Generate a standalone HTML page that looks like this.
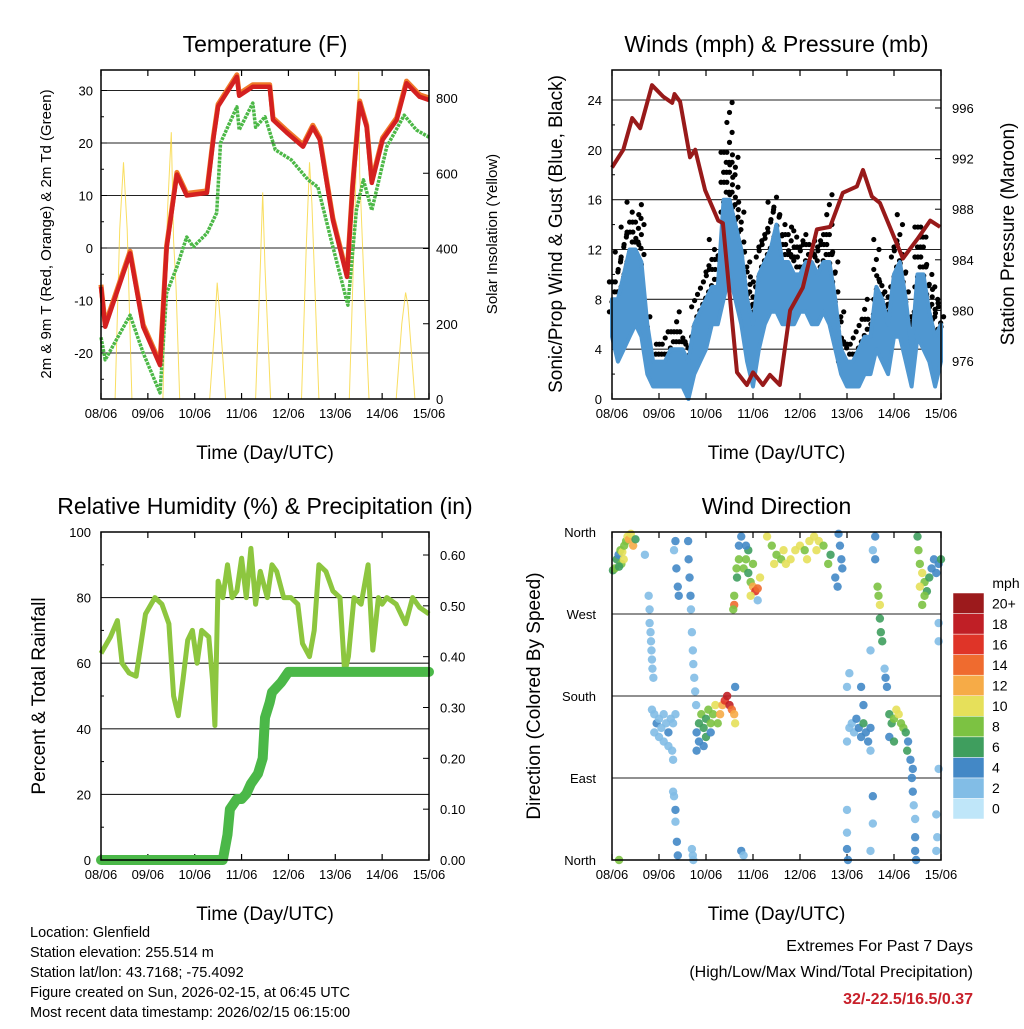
<!DOCTYPE html>
<html><head><meta charset="utf-8"><style>
body{margin:0;background:#fff}
svg text{font-family:"Liberation Sans",sans-serif;fill:#000}
</style></head><body>
<svg id="s" width="1024" height="1024" viewBox="0 0 1024 1024" xmlns="http://www.w3.org/2000/svg"></svg>
<script>
// ---------- DATA ----------
const dayLabels=["08/06","09/06","10/06","11/06","12/06","13/06","14/06","15/06"];
// Temperature (F)
const tT=[0,0.09,0.62,0.9,1.26,1.4,1.62,1.83,2.26,2.4,2.5,2.9,2.95,3.24,3.6,3.67,3.96,4.31,4.52,4.67,4.95,5.25,5.37,5.52,5.67,5.78,6.01,6.31,6.52,6.8,7];
const tempRed=[-7.4,-15,-1,-15,-22.3,0,14,10,10.5,21,27,32.6,29,30.7,30.7,24.4,22,19.3,23,20.6,5.3,-5.5,11.6,27.6,23,12.4,20.6,24.4,31.4,28.8,28.2];
const tD=[0,0.09,0.62,0.9,1.26,1.4,1.62,1.83,1.97,2.26,2.47,2.55,2.9,2.95,3.24,3.3,3.5,3.72,4.06,4.42,4.63,4.95,5.27,5.45,5.6,5.78,6.1,6.47,6.73,7];
const dewGreen=[-17,-21.3,-12.8,-20,-27.6,-8.6,-3.6,2.1,0.2,2.8,6.7,20,26.9,22.5,27.6,23,25,18.7,16.8,13,11.6,0.2,-10.9,7.2,13,7.2,19.3,25.3,22.5,21.1];
const tS=[0.3,0.4,0.48,0.56,0.66,1.32,1.42,1.5,1.55,1.6,1.68,2.32,2.42,2.48,2.55,2.66,3.3,3.4,3.45,3.5,3.62,4.28,4.38,4.45,4.5,4.65,5.3,5.42,5.5,5.52,5.6,5.72,6.3,6.42,6.5,6.55,6.7];
const solar=[0,450,629,450,0,0,500,709,420,300,0,0,180,309,200,0,0,350,549,350,0,0,400,629,520,0,0,500,870,600,350,0,0,200,283,250,0];
// Winds
const wT=[0,0.125,0.25,0.375,0.5,0.625,0.75,0.875,1,1.125,1.25,1.375,1.5,1.625,1.75,1.875,2,2.125,2.25,2.375,2.5,2.625,2.75,2.875,3,3.125,3.25,3.375,3.5,3.625,3.75,3.875,4,4.125,4.25,4.375,4.5,4.625,4.75,4.875,5,5.125,5.25,5.375,5.5,5.625,5.75,5.875,6,6.125,6.25,6.375,6.5,6.625,6.75,6.875,7];
const windLow=[5,3,4,5,6,5,2,1,1,1,1,1,1,0,2,3,4,6,6,8,10,8,6,3,1,4,6,7,7,6,6,6,7,7,6,6,7,6,4,2,1,1,1,2,2,4,3,2,5,5,3,1,5,4,3,1,3];
const windHigh=[8,8,10,12,12,11,6,3,3,3,4,4,4,3,6,7,8,9,9,16,16,14,12,8,6,10,11,12,14,11,11,10,10,11,11,10,11,11,8,4,3,3,4,5,5,9,8,6,10,11,8,4,10,10,7,5,6];
const gust=[10,12,14,16.5,15,16,8,4,4.5,5,6,7,6,5,8,9,11,13,12,20,24,20,16,12,10,13,14,16,17,15,14,14,13,14,13,13,14,17,12,7,5,5,6,8,7,13,10,9,13,15,11,7,14,14,11,9,8];
const pT=[0,0.24,0.43,0.6,0.85,1.09,1.28,1.33,1.45,1.66,1.77,1.98,2.26,2.36,2.66,2.87,3,3.21,3.36,3.57,3.79,4.06,4.36,4.64,4.91,5.21,5.34,5.53,5.7,6.19,6.49,6.77,6.98];
const pressure=[991.3,992.7,995.2,994.4,997.8,996.9,996.4,997.1,996.5,992.1,992.7,989.5,987.1,986.9,975.1,974.1,975.1,974.1,974.9,974.1,980,981.8,986.4,986.6,989.3,989.8,991.1,989,988.5,984.1,985.6,987.1,986.6];
// RH & precipitation
const rT=[0,0.2,0.35,0.45,0.6,0.75,0.95,1.15,1.3,1.45,1.55,1.65,1.75,1.85,1.95,2.05,2.15,2.3,2.38,2.43,2.5,2.6,2.7,2.8,2.9,3.0,3.1,3.2,3.3,3.4,3.55,3.65,3.75,3.9,4.05,4.2,4.3,4.45,4.55,4.65,4.8,4.95,5.1,5.2,5.28,5.4,5.55,5.7,5.8,5.92,6.0,6.1,6.3,6.5,6.65,6.8,7];
const rh=[63,68,73,60,57,56,75,80,78,72,50,44,55,67,70,60,70,68,55,41,85,80,90,80,82,92,80,95,78,88,80,90,88,80,80,78,66,62,70,90,88,82,80,57,62,80,78,90,64,80,78,80,78,72,80,77,75];
const pcT=[0,2.6,2.7,2.75,2.9,3.0,3.1,3.2,3.35,3.45,3.5,3.6,3.65,3.85,4.0,7];
const precip=[0,0,0.05,0.1,0.12,0.12,0.13,0.15,0.17,0.2,0.28,0.31,0.33,0.35,0.37,0.37];
// Wind direction
const dT=[0.02,0.06,0.1,0.14,0.18,0.22,0.26,0.3,0.33,0.36,0.4,0.45,0.5,0.2,0.25,0.15,0.7,0.78,0.8,0.8,0.82,0.83,0.84,0.85,0.86,0.88,0.85,0.9,0.95,1.0,1.05,1.1,1.15,1.2,1.25,0.9,1.0,1.1,1.3,1.35,1.2,1.28,1.3,1.3,1.32,1.35,1.35,1.38,1.4,1.32,1.35,1.37,1.4,1.42,1.62,1.63,1.65,1.67,1.68,1.7,1.72,1.73,1.75,1.77,1.79,1.7,1.72,1.73,1.8,1.85,1.9,1.95,2.0,2.05,2.1,2.15,2.2,2.25,2.3,2.35,2.4,2.45,2.5,2.55,2.6,2.62,1.85,2.0,2.1,1.95,1.8,2.62,2.6,2.58,2.6,2.65,2.7,2.7,2.66,2.75,2.75,2.8,2.8,2.85,2.9,2.95,3.0,3.05,3.1,3.15,3.0,2.9,2.85,2.95,3.1,3.3,3.4,3.5,3.6,3.7,3.8,3.9,4.0,4.1,4.2,4.3,4.4,4.5,4.6,4.65,3.45,3.65,4.35,4.15,4.82,4.85,4.88,4.9,4.75,4.8,5.0,5.05,5.1,5.15,5.2,5.25,5.3,5.35,5.4,5.45,5.5,5.0,5.05,5.3,5.35,5.0,5.0,5.02,5.0,5.55,5.6,5.6,5.65,5.67,5.7,5.7,5.72,5.75,5.5,5.5,5.55,5.55,5.5,5.8,5.82,5.85,5.9,5.95,6.0,6.05,6.1,6.15,6.2,6.25,6.3,5.9,6.0,6.28,6.35,6.4,6.38,6.4,6.42,6.45,6.45,6.45,6.47,6.5,6.52,6.55,6.6,6.65,6.7,6.6,6.65,6.75,6.8,6.85,6.9,6.95,7.0,6.55,6.95,6.95,0.15,6.95,6.9,6.92,6.9];
const dDeg=[318,320,330,335,340,338,345,350,355,352,358,345,352,325,330,322,335,290,275,260,250,240,230,220,210,200,165,160,150,155,145,160,150,140,155,140,135,130,150,160,125,120,110,75,70,55,42,20,5,340,350,320,300,290,350,330,310,290,275,250,230,215,200,185,170,12,5,0,140,150,160,145,155,165,150,160,170,150,160,170,175,180,170,165,160,150,130,135,140,125,120,190,280,275,290,320,330,345,310,355,10,5,320,330,315,305,300,295,298,310,325,340,345,290,285,355,345,335,330,325,330,340,345,340,350,355,350,345,325,335,325,340,340,330,358,345,330,320,310,300,130,145,150,140,155,145,135,150,140,130,145,190,205,190,170,30,12,0,55,340,355,330,300,290,280,265,250,240,230,120,70,40,10,210,200,190,160,150,155,165,160,150,145,140,130,135,130,120,110,100,90,75,60,45,25,10,0,355,340,325,315,305,295,280,290,310,320,330,315,325,330,300,260,240,0,100,50,25,10];
const dSpd=[6,7,5,4,8,9,7,8,10,12,9,11,6,7,9,5,2,2,2,1,2,2,2,2,2,2,2,2,3,2,2,2,2,3,2,2,2,2,2,1,2,1,1,1,1,3,1,3,3,2,3,3,3,4,4,4,4,4,2,1,1,1,2,2,2,1,2,1,4,6,7,5,6,8,7,8,9,8,11,12,16,18,17,14,12,9,3,6,4,3,4,4,14,8,8,8,7,4,6,3,3,2,7,8,6,7,12,15,14,9,8,5,4,9,2,10,8,7,8,10,9,10,9,8,10,10,9,8,7,6,9,10,10,10,4,4,4,3,4,4,2,2,2,2,3,4,4,5,4,3,4,2,2,4,4,1,3,4,2,2,3,4,7,7,9,6,6,5,2,1,3,2,2,2,4,3,6,5,8,10,9,8,7,5,4,4,6,5,4,4,3,3,2,2,3,3,4,6,8,8,9,7,6,8,7,5,4,3,4,4,5,9,2,1,7,1,2,2,2];
const speedLabels=["0","2","4","6","8","10","12","14","16","18","20+"];
const speedColors=["#bfe6f9","#82bde6","#4388c6","#3f9e5e","#7cc242","#e6e05a","#f6ab47","#ef6b2f","#df3428","#c01f26","#9c1a1c"];

// ---------- HELPERS ----------
const NS="http://www.w3.org/2000/svg";
const svg=document.getElementById("s");
function mk(tag,attrs,parent){const e=document.createElementNS(NS,tag);for(const k in attrs)e.setAttribute(k,attrs[k]);(parent||svg).appendChild(e);return e;}
function txt(x,y,s,size,anchor,parent,extra){const t=mk("text",Object.assign({x:x,y:y,"font-size":size,"text-anchor":anchor||"middle"},extra||{}),parent);t.textContent=s;return t;}
function lin(d0,d1,r0,r1){return v=>r0+(v-d0)*(r1-r0)/(d1-d0);}
function pathD(xs,ys,fx,fy){return xs.map((t,i)=>(i?"L":"M")+fx(t).toFixed(1)+","+fy(ys[i]).toFixed(1)).join("");}

function panel(name,x0,y0,x1,y1,title,xTitle){
  const g=mk("g",{});
  
  
  const tt=txt((x0+x1)/2,y0-18,title,23,"middle",g);
  
  
  const xt=txt((x0+x1)/2,y1+60,xTitle,19,"middle",g);
  
  
  const fx=lin(0,7,x0,x1);
  dayLabels.forEach((d,i)=>{
    const X=fx(i);
    mk("line",{x1:X,y1:y1,x2:X,y2:y1-6,stroke:"#000","stroke-width":1.2},g);
    mk("line",{x1:X,y1:y0,x2:X,y2:y0+6,stroke:"#000","stroke-width":1.2},g);
    const l=txt(X,y1+19,d,13,"middle",g);
    
    
  });
  return {g,fx};
}
function frame(g,x0,y0,x1,y1){const r=mk("rect",{x:x0,y:y0,width:x1-x0,height:y1-y0,fill:"none",stroke:"#000","stroke-width":1.5},g);}
function grid(g,x0,x1,Y){mk("line",{x1:x0,y1:Y,x2:x1,y2:Y,stroke:"#222","stroke-width":1.1},g);}

// ---------- PANEL 1: TEMPERATURE ----------
(function(){
  const x0=101,y0=70,x1=429,y1=399;
  const {g,fx}=panel("temperature-panel",x0,y0,x1,y1,"Temperature (F)","Time (Day/UTC)");
  const fyT=v=>248-v*5.25;
  const fyS=lin(0,800,399,98);
  [30,20,10,0,-10,-20].forEach(v=>{grid(g,x0,x1,fyT(v));mk("line",{x1:x0,y1:fyT(v),x2:x0+6,y2:fyT(v),stroke:"#000"},g);
    const l=txt(x0-8,fyT(v)+5,String(v),13,"end",g);});
  [25,15,5,-5,-15,-25].forEach(v=>mk("line",{x1:x0,y1:fyT(v),x2:x0+3,y2:fyT(v),stroke:"#000"},g));
  [0,200,400,600,800].forEach(v=>{mk("line",{x1:x1,y1:fyS(v),x2:x1-6,y2:fyS(v),stroke:"#000"},g);
    const l=txt(x1+7,fyS(v)+5,String(v),13,"start",g);});
  const sp=mk("path",{d:pathD(tS,solar,fx,fyS),fill:"none",stroke:"#f7d63a","stroke-width":1,"stroke-opacity":0.8},g);
  
  const gp=mk("path",{d:pathD(tD,dewGreen,fx,fyT),fill:"none",stroke:"#4cb847","stroke-width":3.5,"stroke-dasharray":"3 1","stroke-linejoin":"round"},g);
  
  const op=mk("path",{d:pathD(tT,tempRed.map(v=>v+0.4),fx,fyT),fill:"none",stroke:"#f07a2a","stroke-width":5,"stroke-linejoin":"round"},g);
  
  const rp=mk("path",{d:pathD(tT,tempRed,fx,fyT),fill:"none",stroke:"#d42020","stroke-width":4.5,"stroke-linejoin":"round"},g);
  
  frame(g,x0,y0,x1,y1);
  const a=txt(0,0,"2m & 9m T (Red, Orange) & 2m Td (Green)",15,"middle",g,{transform:"translate(51,234) rotate(-90)"});
  
  const b=txt(0,0,"Solar Insolation (Yellow)",15,"middle",g,{transform:"translate(497,234) rotate(-90)"});
  
})();

// ---------- PANEL 2: WINDS ----------
(function(){
  const x0=612,y0=70,x1=941,y1=399;
  const {g,fx}=panel("winds-panel",x0,y0,x1,y1,"Winds (mph) & Pressure (mb)","Time (Day/UTC)");
  const fy=lin(0,24,399,100), fp=lin(976,996,361,108);
  [0,4,8,12,16,20,24].forEach(v=>{if(v)grid(g,x0,x1,fy(v));
    const l=txt(x0-10,fy(v)+5,String(v),13,"end",g);});
  [2,6,10,14,18,22].forEach(v=>mk("line",{x1:x0,y1:fy(v),x2:x0+3,y2:fy(v),stroke:"#000"},g));
  [976,980,984,988,992,996].forEach(v=>{mk("line",{x1:x1,y1:fp(v),x2:x1-6,y2:fp(v),stroke:"#000"},g);
    const l=txt(x1+11,fp(v)+5,String(v),13,"start",g);});
  // gust dots: columns between sustained max and gust max
  for(let i=0;i<wT.length;i++){
    const X=fx(wT[i]);
    for(let v=windHigh[i]-1,k=0;v<=gust[i];v+=0.8,k++){
      const c=mk("circle",{cx:X+((k%3)-1)*2.6,cy:fy(v),r:2.6,fill:"#000"},g);
      
    }
    if(i<wT.length-1){
      const Xm=(X+fx(wT[i+1]))/2, hi=(windHigh[i]+windHigh[i+1])/2, gu=Math.min(gust[i],gust[i+1]);
      for(let v=hi-1,k=0;v<=gu;v+=0.8,k++){
        const c=mk("circle",{cx:Xm+((k%3)-1)*2.6,cy:fy(v),r:2.6,fill:"#000"},g);
        
      }
    }
  }
  const up=wT.map((t,i)=>fx(t).toFixed(1)+","+fy(windHigh[i]).toFixed(1));
  const dn=wT.map((t,i)=>fx(t).toFixed(1)+","+fy(windLow[i]).toFixed(1)).reverse();
  const bp=mk("polygon",{points:up.concat(dn).join(" "),fill:"#4f97d1",stroke:"#4f97d1","stroke-width":4,"stroke-linejoin":"round"},g);
  
  const pp=mk("path",{d:pathD(pT,pressure,fx,fp),fill:"none",stroke:"#981a1a","stroke-width":4,"stroke-linejoin":"round"},g);
  
  frame(g,x0,y0,x1,y1);
  const a=txt(0,0,"Sonic/Prop Wind & Gust (Blue, Black)",19,"middle",g,{transform:"translate(562,234) rotate(-90)"});
  
  const b=txt(0,0,"Station Pressure (Maroon)",19,"middle",g,{transform:"translate(1014,234) rotate(-90)"});
  
})();

// ---------- PANEL 3: RH ----------
(function(){
  const x0=101,y0=532,x1=429,y1=860;
  const {g,fx}=panel("humidity-panel",x0,y0,x1,y1,"Relative Humidity (%) & Precipitation (in)","Time (Day/UTC)");
  const fy=lin(0,100,860,532), fr=lin(0,0.6,860,555);
  [0,20,40,60,80,100].forEach(v=>{if(v&&v<100)grid(g,x0,x1,fy(v));
    const l=txt(x0-10,fy(v)+5,String(v),13,"end",g);});
  [10,30,50,70,90].forEach(v=>mk("line",{x1:x0,y1:fy(v),x2:x0+3,y2:fy(v),stroke:"#000"},g));
  ["0.00","0.10","0.20","0.30","0.40","0.50","0.60"].forEach(s=>{const v=+s;mk("line",{x1:x1,y1:fr(v),x2:x1-6,y2:fr(v),stroke:"#000"},g);
    const l=txt(x1+11,fr(v)+5,s,13,"start",g);});
  const hp=mk("path",{d:pathD(rT,rh,fx,fy),fill:"none",stroke:"#8dc63f","stroke-width":5,"stroke-linejoin":"round"},g);
  
  const pp=mk("path",{d:pathD(pcT,precip,fx,fr),fill:"none",stroke:"#4bb848","stroke-width":10,"stroke-linejoin":"round","stroke-linecap":"round"},g);
  
  frame(g,x0,y0,x1,y1);
  const a=txt(0,0,"Percent & Total Rainfall",19,"middle",g,{transform:"translate(45,696) rotate(-90)"});
  
})();

// ---------- PANEL 4: WIND DIRECTION ----------
(function(){
  const x0=612,y0=532,x1=941,y1=860;
  const {g,fx}=panel("wind-direction-panel",x0,y0,x1,y1,"Wind Direction","Time (Day/UTC)");
  const fy=lin(0,360,860,532);
  [[0,"North"],[90,"East"],[180,"South"],[270,"West"],[360,"North"]].forEach(([v,s])=>{if(v&&v<360)grid(g,x0,x1,fy(v));
    const l=txt(x0-16,fy(v)+5,s,13,"end",g);});
  for(let i=0;i<dT.length;i++){
    const c=mk("circle",{cx:fx(dT[i]),cy:fy(dDeg[i]),r:4.2,fill:speedColors[Math.min(10,Math.ceil(dSpd[i]/2))],"fill-opacity":0.9},g);
    
  }
  frame(g,x0,y0,x1,y1);
  const a=txt(0,0,"Direction (Colored By Speed)",19,"middle",g,{transform:"translate(540,696) rotate(-90)"});
  
  const cb=mk("g",{});
  
  const u=txt(1006,588,"mph",14,"middle",cb);
  const h=226/11;
  speedLabels.forEach((s,i)=>{const Y=819-(i+1)*h;
    const r=mk("rect",{x:953,y:Y,width:31,height:h,fill:speedColors[i],stroke:"#fff","stroke-width":0.5},cb);
    
    const l=txt(992,Y+h/2+5,s,14,"start",cb);});
})();

// ---------- FOOTER TEXT ----------
const info=["Location: Glenfield","Station elevation: 255.514 m","Station lat/lon: 43.7168; -75.4092","Figure created on Sun, 2026-02-15, at 06:45 UTC","Most recent data timestamp: 2026/02/15 06:15:00"];
info.forEach((s,i)=>{const t=txt(30,937+i*20,s,14.5,"start");});
const e1=txt(973,951,"Extremes For Past 7 Days",16,"end");
const e2=txt(973,977,"(High/Low/Max Wind/Total Precipitation)",16,"end");
const e3=txt(973,1004,"32/-22.5/16.5/0.37",16,"end",null,{"font-weight":"bold"});e3.style.fill="#c8202a";
</script>
</body></html>
